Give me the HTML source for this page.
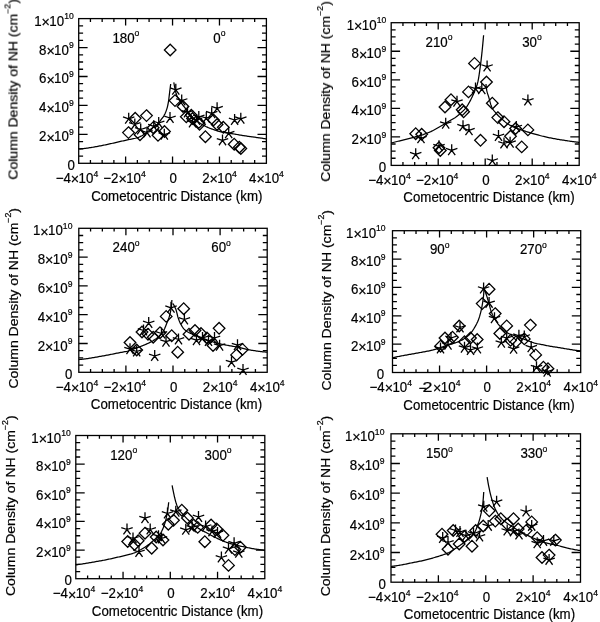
<!DOCTYPE html>
<html><head><meta charset="utf-8"><style>
html,body{margin:0;padding:0;background:#fff;width:600px;height:622px;overflow:hidden}
svg{display:block}
text{font-family:"Liberation Sans",sans-serif;font-size:13.3px;fill:#000;stroke:#000;stroke-width:0.2px}
.t{font-size:13.3px}
.yt{font-size:13.3px}
.ax{fill:none;stroke:#000;stroke-width:1.3}
.cv{fill:none;stroke:#000;stroke-width:1.25;stroke-linejoin:round}
.mk{fill:none;stroke:#000;stroke-width:1.3;stroke-linejoin:miter}
</style></head><body>
<svg width="600" height="622" viewBox="0 0 600 622">
<defs><filter id="b" x="0" y="0" width="600" height="622" filterUnits="userSpaceOnUse"><feGaussianBlur stdDeviation="0.4"/></filter></defs>
<g filter="url(#b)"><rect width="600" height="622" fill="#fff"/>
<rect x="78.7" y="18.6" width="187.7" height="144.7" class="ax"/>
<path d="M90.43 163.3v-3.3M90.43 18.6v3.3M102.16 163.3v-3.3M102.16 18.6v3.3M113.89 163.3v-3.3M113.89 18.6v3.3M125.62 163.3v-6.9M125.62 18.6v6.9M137.36 163.3v-3.3M137.36 18.6v3.3M149.09 163.3v-3.3M149.09 18.6v3.3M160.82 163.3v-3.3M160.82 18.6v3.3M172.55 163.3v-6.9M172.55 18.6v6.9M184.28 163.3v-3.3M184.28 18.6v3.3M196.01 163.3v-3.3M196.01 18.6v3.3M207.74 163.3v-3.3M207.74 18.6v3.3M219.47 163.3v-6.9M219.47 18.6v6.9M231.21 163.3v-3.3M231.21 18.6v3.3M242.94 163.3v-3.3M242.94 18.6v3.3M254.67 163.3v-3.3M254.67 18.6v3.3M78.7 156.06h4.4M266.4 156.06h-4.4M78.7 148.83h4.4M266.4 148.83h-4.4M78.7 141.59h4.4M266.4 141.59h-4.4M78.7 134.36h8.9M266.4 134.36h-8.9M78.7 127.12h4.4M266.4 127.12h-4.4M78.7 119.89h4.4M266.4 119.89h-4.4M78.7 112.66h4.4M266.4 112.66h-4.4M78.7 105.42h8.9M266.4 105.42h-8.9M78.7 98.19h4.4M266.4 98.19h-4.4M78.7 90.95h4.4M266.4 90.95h-4.4M78.7 83.71h4.4M266.4 83.71h-4.4M78.7 76.48h8.9M266.4 76.48h-8.9M78.7 69.24h4.4M266.4 69.24h-4.4M78.7 62.01h4.4M266.4 62.01h-4.4M78.7 54.78h4.4M266.4 54.78h-4.4M78.7 47.54h8.9M266.4 47.54h-8.9M78.7 40.31h4.4M266.4 40.31h-4.4M78.7 33.07h4.4M266.4 33.07h-4.4M78.7 25.84h4.4M266.4 25.84h-4.4" class="ax"/>
<text transform="matrix(1 0 0 1.055 74.9 170.3)" text-anchor="end">0</text>
<text transform="matrix(1 0 0 1.055 73.7 141.36)" text-anchor="end">2<tspan font-size="14.3" dy="1.23">×</tspan><tspan dy="-1.23" dx="-0.6">10</tspan><tspan dy="-5.97" font-size="8.6">9</tspan></text>
<text transform="matrix(1 0 0 1.055 73.7 112.42)" text-anchor="end">4<tspan font-size="14.3" dy="1.23">×</tspan><tspan dy="-1.23" dx="-0.6">10</tspan><tspan dy="-5.97" font-size="8.6">9</tspan></text>
<text transform="matrix(1 0 0 1.055 73.7 83.48)" text-anchor="end">6<tspan font-size="14.3" dy="1.23">×</tspan><tspan dy="-1.23" dx="-0.6">10</tspan><tspan dy="-5.97" font-size="8.6">9</tspan></text>
<text transform="matrix(1 0 0 1.055 73.7 54.54)" text-anchor="end">8<tspan font-size="14.3" dy="1.23">×</tspan><tspan dy="-1.23" dx="-0.6">10</tspan><tspan dy="-5.97" font-size="8.6">9</tspan></text>
<text transform="matrix(1 0 0 1.055 73.7 25.6)" text-anchor="end">1<tspan font-size="14.3" dy="1.23">×</tspan><tspan dy="-1.23" dx="-0.6">10</tspan><tspan dy="-5.97" font-size="8.6">10</tspan></text>
<text transform="matrix(1 0 0 1.055 55.7 182.9)">−4<tspan font-size="14.3" dy="1.23">×</tspan><tspan dy="-1.23" dx="-0.6">10</tspan><tspan dy="-5.97" font-size="8.6">4</tspan></text>
<text transform="matrix(1 0 0 1.055 103.33 182.9)">−2<tspan font-size="14.3" dy="1.23">×</tspan><tspan dy="-1.23" dx="-0.6">10</tspan><tspan dy="-5.97" font-size="8.6">4</tspan></text>
<text transform="matrix(1 0 0 1.055 173.25 182.9)" text-anchor="middle">0</text>
<text transform="matrix(1 0 0 1.055 202.17 182.9)">2<tspan font-size="14.3" dy="1.23">×</tspan><tspan dy="-1.23" dx="-0.6">10</tspan><tspan dy="-5.97" font-size="8.6">4</tspan></text>
<text transform="matrix(1 0 0 1.055 249.1 182.9)">4<tspan font-size="14.3" dy="1.23">×</tspan><tspan dy="-1.23" dx="-0.6">10</tspan><tspan dy="-5.97" font-size="8.6">4</tspan></text>
<text transform="matrix(1 0 0 1.055 91.13 200.5)" class="t">Cometocentric Distance (km)</text>
<text transform="matrix(0 -1.055 1 0 17.5 179.6)" class="yt">Column Density of NH (cm<tspan dy="-6.92" font-size="8.3">−2</tspan><tspan dy="6.92">)</tspan></text>
<text transform="matrix(1 0 0 1.055 112.4 42.7)">180<tspan dy="-6.07" font-size="8.6">o</tspan></text>
<text transform="matrix(1 0 0 1.055 213.3 42.7)">0<tspan dy="-6.07" font-size="8.6">o</tspan></text>
<path d="M78.7 149L79.71 148.92L80.72 148.83L81.74 148.73L82.75 148.63L83.76 148.52L84.77 148.4L85.79 148.28L86.8 148.16L87.81 148.02L88.82 147.89L89.83 147.74L90.82 147.58L91.81 147.42L92.8 147.25L93.79 147.07L94.78 146.89L95.77 146.71L96.76 146.53L97.75 146.35L98.74 146.16L99.73 145.98L100.72 145.79L101.71 145.59L102.69 145.4L103.68 145.2L104.67 145L105.66 144.79L106.65 144.59L107.64 144.38L108.63 144.16L109.62 143.94L110.61 143.72L111.6 143.49L112.59 143.26L113.58 143.03L114.57 142.79L115.56 142.56L116.54 142.33L117.53 142.11L118.52 141.88L119.51 141.66L120.5 141.45L121.49 141.23L122.48 141.01L123.47 140.8L124.46 140.58L125.45 140.37L126.44 140.15L127.43 139.93L128.42 139.71L129.4 139.5L130.39 139.3L131.38 139.11L132.37 138.91L133.36 138.71L134.35 138.49L135.34 138.26L136.33 138L137.3 137.72L138.26 137.41L139.21 137.05L140.13 136.63L141.02 136.18L141.9 135.69L142.77 135.16L143.62 134.61L144.45 134.04L145.28 133.46L146.11 132.85L146.91 132.24L147.72 131.63L148.52 131L149.33 130.37L150.13 129.74L150.94 129.11L151.74 128.49L152.55 127.87L153.35 127.27L154.18 126.67L155.01 126.1L155.84 125.52L156.64 124.92L157.43 124.26L158.14 123.54L158.78 122.77L159.4 121.95L160 121.12L160.6 120.3L161.22 119.48L161.84 118.68L162.46 117.86L163.06 117.03L163.64 116.16L164.17 115.29L164.65 114.41L165.11 113.47L165.52 112.54L165.91 111.57L166.28 110.57L166.6 109.62L166.93 108.59L167.23 107.55L167.48 106.57L167.71 105.58L167.94 104.5L168.15 103.43L168.33 102.42L168.51 101.33L168.68 100.29L168.81 99.23L168.95 98.04L169.07 97.02L169.18 96L169.32 94.84L169.46 93.73L169.6 92.62L169.73 91.52L169.87 90.42L170.01 89.33L170.15 88.25L170.29 87.17L170.42 86.11L170.56 85.05L170.7 84L170.7 84" class="cv"/>
<path d="M173.8 82.4L173.99 83.46L174.17 84.5L174.36 85.53L174.54 86.53L174.75 87.63L174.96 88.68L175.17 89.69L175.4 90.74L175.65 91.8L175.93 92.84L176.23 93.81L176.6 94.8L177 95.75L177.44 96.69L177.9 97.58L178.41 98.47L178.94 99.34L179.5 100.21L180.05 101.08L180.61 101.95L181.19 102.81L181.77 103.63L182.37 104.46L182.97 105.26L183.59 106.07L184.22 106.88L184.85 107.69L185.47 108.5L186.1 109.32L186.72 110.14L187.35 110.95L187.97 111.75L188.6 112.54L189.24 113.35L189.89 114.13L190.54 114.9L191.21 115.66L191.91 116.41L192.63 117.14L193.37 117.85L194.11 118.53L194.87 119.21L195.64 119.87L196.42 120.53L197.21 121.16L198.02 121.78L198.83 122.38L199.67 122.96L200.52 123.52L201.38 124.05L202.26 124.56L203.14 125.06L204.02 125.54L204.92 126.01L205.82 126.46L206.73 126.89L207.65 127.31L208.58 127.72L209.51 128.1L210.46 128.48L211.41 128.84L212.35 129.18L213.3 129.52L214.25 129.85L215.2 130.16L216.18 130.48L217.15 130.78L218.12 131.06L219.09 131.33L220.07 131.59L221.04 131.83L222.03 132.06L223.03 132.27L224.02 132.46L225.02 132.64L226.02 132.81L227.01 132.96L228.01 133.11L229 133.26L230 133.4L230.99 133.54L231.99 133.69L232.99 133.84L233.98 134L234.98 134.16L235.97 134.33L236.97 134.5L237.96 134.67L238.96 134.84L239.96 135.01L240.95 135.18L241.95 135.34L242.94 135.51L243.94 135.67L244.93 135.83L245.93 135.98L246.93 136.13L247.92 136.27L248.92 136.42L249.91 136.56L250.91 136.69L251.9 136.83L252.9 136.97L253.9 137.11L254.89 137.24L255.89 137.38L256.88 137.53L257.88 137.67L258.87 137.81L259.87 137.95L260.87 138.1L261.86 138.24L262.86 138.39L263.85 138.53L264.85 138.67L265.84 138.82L266.4 138.9" class="cv"/>
<path d="M170.2 44.2L176 50L170.2 55.8L164.4 50Z" class="mk"/>
<path d="M135.2 112.5L141 118.3L135.2 124.1L129.4 118.3Z" class="mk"/>
<path d="M146.5 109.8L152.3 115.6L146.5 121.4L140.7 115.6Z" class="mk"/>
<path d="M128.5 126.8L134.3 132.6L128.5 138.4L122.7 132.6Z" class="mk"/>
<path d="M140 128.9L145.8 134.7L140 140.5L134.2 134.7Z" class="mk"/>
<path d="M153.2 121.9L159 127.7L153.2 133.5L147.4 127.7Z" class="mk"/>
<path d="M158 129.5L163.8 135.3L158 141.1L152.2 135.3Z" class="mk"/>
<path d="M164.5 125.7L170.3 131.5L164.5 137.3L158.7 131.5Z" class="mk"/>
<path d="M175 94.8L180.8 100.6L175 106.4L169.2 100.6Z" class="mk"/>
<path d="M183 100.7L188.8 106.5L183 112.3L177.2 106.5Z" class="mk"/>
<path d="M186.3 111L192.1 116.8L186.3 122.6L180.5 116.8Z" class="mk"/>
<path d="M192.5 112.7L198.3 118.5L192.5 124.3L186.7 118.5Z" class="mk"/>
<path d="M198.8 116.7L204.6 122.5L198.8 128.3L193 122.5Z" class="mk"/>
<path d="M205.4 130.9L211.2 136.7L205.4 142.5L199.6 136.7Z" class="mk"/>
<path d="M217.1 118.7L222.9 124.5L217.1 130.3L211.3 124.5Z" class="mk"/>
<path d="M234.2 138.4L240 144.2L234.2 150L228.4 144.2Z" class="mk"/>
<path d="M240.8 142.7L246.6 148.5L240.8 154.3L235 148.5Z" class="mk"/>
<path d="M239.3 141.4L245.1 147.2L239.3 153L233.5 147.2Z" class="mk"/>
<path d="M213.5 114.2L219.3 120L213.5 125.8L207.7 120Z" class="mk"/>
<path d="M223.3 121.5L229.1 127.3L223.3 133.1L217.5 127.3Z" class="mk"/>
<path d="M191.3 109.5L197.1 115.3L191.3 121.1L185.5 115.3Z" class="mk"/>
<path d="M199.5 118.5L205.3 124.3L199.5 130.1L193.7 124.3Z" class="mk"/>
<path d="M128.7 118.8l0 -6M128.7 118.8l5.71 -1.85M128.7 118.8l-5.71 -1.85M128.7 118.8l3.53 4.85M128.7 118.8l-3.53 4.85" class="mk"/>
<path d="M134.8 124.5l0 -6M134.8 124.5l5.71 -1.85M134.8 124.5l-5.71 -1.85M134.8 124.5l3.53 4.85M134.8 124.5l-3.53 4.85" class="mk"/>
<path d="M140.7 129.5l0 -6M140.7 129.5l5.71 -1.85M140.7 129.5l-5.71 -1.85M140.7 129.5l3.53 4.85M140.7 129.5l-3.53 4.85" class="mk"/>
<path d="M147 132.5l0 -6M147 132.5l5.71 -1.85M147 132.5l-5.71 -1.85M147 132.5l3.53 4.85M147 132.5l-3.53 4.85" class="mk"/>
<path d="M153.8 126.3l0 -6M153.8 126.3l5.71 -1.85M153.8 126.3l-5.71 -1.85M153.8 126.3l3.53 4.85M153.8 126.3l-3.53 4.85" class="mk"/>
<path d="M158.7 123l0 -6M158.7 123l5.71 -1.85M158.7 123l-5.71 -1.85M158.7 123l3.53 4.85M158.7 123l-3.53 4.85" class="mk"/>
<path d="M164.3 134.7l0 -6M164.3 134.7l5.71 -1.85M164.3 134.7l-5.71 -1.85M164.3 134.7l3.53 4.85M164.3 134.7l-3.53 4.85" class="mk"/>
<path d="M170 118l0 -6M170 118l5.71 -1.85M170 118l-5.71 -1.85M170 118l3.53 4.85M170 118l-3.53 4.85" class="mk"/>
<path d="M175.8 89.8l0 -6M175.8 89.8l5.71 -1.85M175.8 89.8l-5.71 -1.85M175.8 89.8l3.53 4.85M175.8 89.8l-3.53 4.85" class="mk"/>
<path d="M181.7 100.6l0 -6M181.7 100.6l5.71 -1.85M181.7 100.6l-5.71 -1.85M181.7 100.6l3.53 4.85M181.7 100.6l-3.53 4.85" class="mk"/>
<path d="M187.5 112.5l0 -6M187.5 112.5l5.71 -1.85M187.5 112.5l-5.71 -1.85M187.5 112.5l3.53 4.85M187.5 112.5l-3.53 4.85" class="mk"/>
<path d="M192.5 122.5l0 -6M192.5 122.5l5.71 -1.85M192.5 122.5l-5.71 -1.85M192.5 122.5l3.53 4.85M192.5 122.5l-3.53 4.85" class="mk"/>
<path d="M198.8 117l0 -6M198.8 117l5.71 -1.85M198.8 117l-5.71 -1.85M198.8 117l3.53 4.85M198.8 117l-3.53 4.85" class="mk"/>
<path d="M206.3 118.1l0 -6M206.3 118.1l5.71 -1.85M206.3 118.1l-5.71 -1.85M206.3 118.1l3.53 4.85M206.3 118.1l-3.53 4.85" class="mk"/>
<path d="M211.7 113.3l0 -6M211.7 113.3l5.71 -1.85M211.7 113.3l-5.71 -1.85M211.7 113.3l3.53 4.85M211.7 113.3l-3.53 4.85" class="mk"/>
<path d="M217.1 108.3l0 -6M217.1 108.3l5.71 -1.85M217.1 108.3l-5.71 -1.85M217.1 108.3l3.53 4.85M217.1 108.3l-3.53 4.85" class="mk"/>
<path d="M228.7 133.3l0 -6M228.7 133.3l5.71 -1.85M228.7 133.3l-5.71 -1.85M228.7 133.3l3.53 4.85M228.7 133.3l-3.53 4.85" class="mk"/>
<path d="M222.5 140.4l0 -6M222.5 140.4l5.71 -1.85M222.5 140.4l-5.71 -1.85M222.5 140.4l3.53 4.85M222.5 140.4l-3.53 4.85" class="mk"/>
<path d="M234.6 120l0 -6M234.6 120l5.71 -1.85M234.6 120l-5.71 -1.85M234.6 120l3.53 4.85M234.6 120l-3.53 4.85" class="mk"/>
<path d="M240.8 118.8l0 -6M240.8 118.8l5.71 -1.85M240.8 118.8l-5.71 -1.85M240.8 118.8l3.53 4.85M240.8 118.8l-3.53 4.85" class="mk"/>
<path d="M196.5 120l0 -6M196.5 120l5.71 -1.85M196.5 120l-5.71 -1.85M196.5 120l3.53 4.85M196.5 120l-3.53 4.85" class="mk"/>
<rect x="391.2" y="22.7" width="188" height="142.7" class="ax"/>
<path d="M402.95 165.4v-3.3M402.95 22.7v3.3M414.7 165.4v-3.3M414.7 22.7v3.3M426.45 165.4v-3.3M426.45 22.7v3.3M438.2 165.4v-6.9M438.2 22.7v6.9M449.95 165.4v-3.3M449.95 22.7v3.3M461.7 165.4v-3.3M461.7 22.7v3.3M473.45 165.4v-3.3M473.45 22.7v3.3M485.2 165.4v-6.9M485.2 22.7v6.9M496.95 165.4v-3.3M496.95 22.7v3.3M508.7 165.4v-3.3M508.7 22.7v3.3M520.45 165.4v-3.3M520.45 22.7v3.3M532.2 165.4v-6.9M532.2 22.7v6.9M543.95 165.4v-3.3M543.95 22.7v3.3M555.7 165.4v-3.3M555.7 22.7v3.3M567.45 165.4v-3.3M567.45 22.7v3.3M391.2 158.27h4.4M579.2 158.27h-4.4M391.2 151.13h4.4M579.2 151.13h-4.4M391.2 144h4.4M579.2 144h-4.4M391.2 136.86h8.9M579.2 136.86h-8.9M391.2 129.72h4.4M579.2 129.72h-4.4M391.2 122.59h4.4M579.2 122.59h-4.4M391.2 115.46h4.4M579.2 115.46h-4.4M391.2 108.32h8.9M579.2 108.32h-8.9M391.2 101.19h4.4M579.2 101.19h-4.4M391.2 94.05h4.4M579.2 94.05h-4.4M391.2 86.91h4.4M579.2 86.91h-4.4M391.2 79.78h8.9M579.2 79.78h-8.9M391.2 72.64h4.4M579.2 72.64h-4.4M391.2 65.51h4.4M579.2 65.51h-4.4M391.2 58.38h4.4M579.2 58.38h-4.4M391.2 51.24h8.9M579.2 51.24h-8.9M391.2 44.1h4.4M579.2 44.1h-4.4M391.2 36.97h4.4M579.2 36.97h-4.4M391.2 29.84h4.4M579.2 29.84h-4.4" class="ax"/>
<text transform="matrix(1 0 0 1.055 386.2 172.4)" text-anchor="end">0</text>
<text transform="matrix(1 0 0 1.055 386.2 143.86)" text-anchor="end">2<tspan font-size="14.3" dy="1.23">×</tspan><tspan dy="-1.23" dx="-0.6">10</tspan><tspan dy="-5.97" font-size="8.6">9</tspan></text>
<text transform="matrix(1 0 0 1.055 386.2 115.32)" text-anchor="end">4<tspan font-size="14.3" dy="1.23">×</tspan><tspan dy="-1.23" dx="-0.6">10</tspan><tspan dy="-5.97" font-size="8.6">9</tspan></text>
<text transform="matrix(1 0 0 1.055 386.2 86.78)" text-anchor="end">6<tspan font-size="14.3" dy="1.23">×</tspan><tspan dy="-1.23" dx="-0.6">10</tspan><tspan dy="-5.97" font-size="8.6">9</tspan></text>
<text transform="matrix(1 0 0 1.055 386.2 58.24)" text-anchor="end">8<tspan font-size="14.3" dy="1.23">×</tspan><tspan dy="-1.23" dx="-0.6">10</tspan><tspan dy="-5.97" font-size="8.6">9</tspan></text>
<text transform="matrix(1 0 0 1.055 386.2 29.7)" text-anchor="end">1<tspan font-size="14.3" dy="1.23">×</tspan><tspan dy="-1.23" dx="-0.6">10</tspan><tspan dy="-5.97" font-size="8.6">10</tspan></text>
<text transform="matrix(1 0 0 1.055 368.2 185)">−4<tspan font-size="14.3" dy="1.23">×</tspan><tspan dy="-1.23" dx="-0.6">10</tspan><tspan dy="-5.97" font-size="8.6">4</tspan></text>
<text transform="matrix(1 0 0 1.055 415.9 185)">−2<tspan font-size="14.3" dy="1.23">×</tspan><tspan dy="-1.23" dx="-0.6">10</tspan><tspan dy="-5.97" font-size="8.6">4</tspan></text>
<text transform="matrix(1 0 0 1.055 485.9 185)" text-anchor="middle">0</text>
<text transform="matrix(1 0 0 1.055 514.9 185)">2<tspan font-size="14.3" dy="1.23">×</tspan><tspan dy="-1.23" dx="-0.6">10</tspan><tspan dy="-5.97" font-size="8.6">4</tspan></text>
<text transform="matrix(1 0 0 1.055 561.9 185)">4<tspan font-size="14.3" dy="1.23">×</tspan><tspan dy="-1.23" dx="-0.6">10</tspan><tspan dy="-5.97" font-size="8.6">4</tspan></text>
<text transform="matrix(1 0 0 1.055 403.33 202.3)" class="t">Cometocentric Distance (km)</text>
<text transform="matrix(0 -1.055 1 0 330 181.7)" class="yt">Column Density of NH (cm<tspan dy="-6.92" font-size="8.3">−2</tspan><tspan dy="6.92">)</tspan></text>
<text transform="matrix(1 0 0 1.055 425.5 46.7)">210<tspan dy="-6.07" font-size="8.6">o</tspan></text>
<text transform="matrix(1 0 0 1.055 522.2 46.7)">30<tspan dy="-6.07" font-size="8.6">o</tspan></text>
<path d="M391.2 143L392.17 142.75L393.14 142.5L394.11 142.25L395.08 142L396.05 141.76L397.02 141.51L397.99 141.26L398.96 141.02L399.93 140.77L400.9 140.52L401.87 140.28L402.85 140.04L403.84 139.79L404.83 139.55L405.83 139.3L406.82 139.06L407.81 138.81L408.78 138.57L409.75 138.32L410.72 138.07L411.69 137.82L412.67 137.57L413.64 137.33L414.61 137.08L415.58 136.83L416.55 136.58L417.52 136.32L418.49 136.05L419.46 135.77L420.43 135.48L421.4 135.17L422.37 134.86L423.32 134.54L424.26 134.2L425.21 133.86L426.16 133.51L427.11 133.14L428.05 132.76L428.98 132.38L429.9 131.98L430.83 131.58L431.75 131.15L432.65 130.71L433.55 130.25L434.45 129.77L435.33 129.28L436.21 128.79L437.09 128.28L437.97 127.77L438.84 127.27L439.72 126.76L440.6 126.25L441.48 125.74L442.36 125.22L443.23 124.69L444.11 124.16L444.97 123.64L445.82 123.12L446.68 122.6L447.55 122.07L448.43 121.54L449.31 121.03L450.19 120.53L451.07 120.04L451.95 119.54L452.82 119.03L453.7 118.5L454.56 117.97L455.41 117.41L456.24 116.83L457.05 116.21L457.84 115.58L458.62 114.91L459.39 114.25L460.15 113.57L460.91 112.89L461.67 112.22L462.44 111.53L463.17 110.83L463.89 110.13L464.58 109.39L465.25 108.64L465.9 107.85L466.5 107.03L467.08 106.17L467.63 105.28L468.17 104.4L468.67 103.52L469.18 102.62L469.69 101.72L470.18 100.83L470.66 99.92L471.12 99.01L471.58 98.08L472.02 97.17L472.46 96.24L472.9 95.3L473.32 94.38L473.73 93.43L474.15 92.46L474.54 91.51L474.94 90.53L475.31 89.59L475.67 88.65L476.07 87.66L476.44 86.7L476.78 85.73L477.11 84.74L477.41 83.72L477.68 82.66L477.92 81.67L478.12 80.67L478.33 79.6L478.52 78.58L478.7 77.5L478.89 76.37L479.05 75.34L479.21 74.28L479.37 73.18L479.53 72.06L479.7 70.92L479.83 69.91L479.97 68.9L480.11 67.87L480.25 66.83L480.39 65.78L480.53 64.73L480.67 63.66L480.8 62.59L480.94 61.49L481.08 60.35L481.22 59.18L481.34 58.19L481.45 57.18L481.57 56.14L481.68 55.09L481.8 54.02L481.91 52.93L482.03 51.82L482.14 50.69L482.26 49.55L482.38 48.39L482.49 47.22L482.61 46.02L482.72 44.82L482.84 43.6L482.95 42.36L483.05 41.36L483.14 40.36L483.23 39.34L483.32 38.32L483.42 37.29L483.51 36.25L483.6 35.2L483.6 35.2" class="cv"/>
<path d="M486 84L486.09 85.3L486.19 86.57L486.3 87.72L486.47 88.77L486.65 89.83L486.86 90.88L487.1 91.89L487.38 92.93L487.68 93.9L488 94.85L488.35 95.86L488.68 96.88L488.96 97.88L489.24 98.92L489.5 99.89L489.75 100.86L490.03 101.91L490.31 102.93L490.59 103.91L490.89 104.89L491.22 105.85L491.62 106.82L492.08 107.75L492.57 108.62L493.11 109.49L493.69 110.33L494.3 111.13L494.95 111.92L495.63 112.7L496.3 113.47L496.98 114.24L497.68 115L498.38 115.73L499.1 116.44L499.84 117.15L500.59 117.85L501.34 118.53L502.08 119.22L502.83 119.89L503.57 120.56L504.34 121.23L505.11 121.88L505.9 122.51L506.72 123.13L507.56 123.72L508.4 124.28L509.26 124.84L510.12 125.36L511.01 125.85L511.92 126.31L512.83 126.73L513.76 127.13L514.69 127.5L515.65 127.86L516.6 128.21L517.56 128.55L518.51 128.88L519.47 129.21L520.42 129.54L521.38 129.87L522.33 130.2L523.29 130.53L524.24 130.85L525.2 131.17L526.16 131.48L527.11 131.79L528.07 132.1L529.02 132.39L530 132.69L530.98 132.99L531.96 133.28L532.94 133.56L533.92 133.84L534.9 134.12L535.87 134.4L536.85 134.68L537.83 134.95L538.81 135.22L539.79 135.48L540.77 135.74L541.75 135.99L542.73 136.24L543.71 136.48L544.68 136.71L545.66 136.94L546.64 137.16L547.62 137.37L548.62 137.58L549.62 137.78L550.63 137.98L551.63 138.18L552.63 138.37L553.63 138.55L554.64 138.73L555.64 138.91L556.64 139.09L557.64 139.26L558.64 139.43L559.65 139.6L560.65 139.76L561.65 139.92L562.65 140.08L563.66 140.24L564.66 140.39L565.66 140.55L566.66 140.7L567.66 140.85L568.67 141L569.67 141.14L570.67 141.28L571.67 141.43L572.67 141.56L573.68 141.7L574.68 141.83L575.68 141.96L576.68 142.09L577.69 142.22L578.69 142.34L579.2 142.4" class="cv"/>
<path d="M415.7 127.9L421.5 133.7L415.7 139.5L409.9 133.7Z" class="mk"/>
<path d="M421.7 128.5L427.5 134.3L421.7 140.1L415.9 134.3Z" class="mk"/>
<path d="M451 93.9L456.8 99.7L451 105.5L445.2 99.7Z" class="mk"/>
<path d="M445 101.2L450.8 107L445 112.8L439.2 107Z" class="mk"/>
<path d="M480.5 134.5L486.3 140.3L480.5 146.1L474.7 140.3Z" class="mk"/>
<path d="M439 141.9L444.8 147.7L439 153.5L433.2 147.7Z" class="mk"/>
<path d="M440.3 144.7L446.1 150.5L440.3 156.3L434.5 150.5Z" class="mk"/>
<path d="M474.5 57.6L480.3 63.4L474.5 69.2L468.7 63.4Z" class="mk"/>
<path d="M486.5 76.2L492.3 82L486.5 87.8L480.7 82Z" class="mk"/>
<path d="M492.3 97.4L498.1 103.2L492.3 109L486.5 103.2Z" class="mk"/>
<path d="M497.8 111.8L503.6 117.6L497.8 123.4L492 117.6Z" class="mk"/>
<path d="M504 115.9L509.8 121.7L504 127.5L498.2 121.7Z" class="mk"/>
<path d="M515.6 122.7L521.4 128.5L515.6 134.3L509.8 128.5Z" class="mk"/>
<path d="M527.9 124.1L533.7 129.9L527.9 135.7L522.1 129.9Z" class="mk"/>
<path d="M510.5 130.5L516.3 136.3L510.5 142.1L504.7 136.3Z" class="mk"/>
<path d="M521.7 141.1L527.5 146.9L521.7 152.7L515.9 146.9Z" class="mk"/>
<path d="M462.2 104L468 109.8L462.2 115.6L456.4 109.8Z" class="mk"/>
<path d="M463.6 106L469.4 111.8L463.6 117.6L457.8 111.8Z" class="mk"/>
<path d="M468.5 86.1L474.3 91.9L468.5 97.7L462.7 91.9Z" class="mk"/>
<path d="M457 101.7l0 -6M457 101.7l5.71 -1.85M457 101.7l-5.71 -1.85M457 101.7l3.53 4.85M457 101.7l-3.53 4.85" class="mk"/>
<path d="M445.7 123.7l0 -6M445.7 123.7l5.71 -1.85M445.7 123.7l-5.71 -1.85M445.7 123.7l3.53 4.85M445.7 123.7l-3.53 4.85" class="mk"/>
<path d="M421 138.3l0 -6M421 138.3l5.71 -1.85M421 138.3l-5.71 -1.85M421 138.3l3.53 4.85M421 138.3l-3.53 4.85" class="mk"/>
<path d="M463 126.3l0 -6M463 126.3l5.71 -1.85M463 126.3l-5.71 -1.85M463 126.3l3.53 4.85M463 126.3l-3.53 4.85" class="mk"/>
<path d="M469 130.3l0 -6M469 130.3l5.71 -1.85M469 130.3l-5.71 -1.85M469 130.3l3.53 4.85M469 130.3l-3.53 4.85" class="mk"/>
<path d="M415.7 154.3l0 -6M415.7 154.3l5.71 -1.85M415.7 154.3l-5.71 -1.85M415.7 154.3l3.53 4.85M415.7 154.3l-3.53 4.85" class="mk"/>
<path d="M451.7 150.3l0 -6M451.7 150.3l5.71 -1.85M451.7 150.3l-5.71 -1.85M451.7 150.3l3.53 4.85M451.7 150.3l-3.53 4.85" class="mk"/>
<path d="M439 146.3l0 -6M439 146.3l5.71 -1.85M439 146.3l-5.71 -1.85M439 146.3l3.53 4.85M439 146.3l-3.53 4.85" class="mk"/>
<path d="M475.5 88.6l0 -6M475.5 88.6l5.71 -1.85M475.5 88.6l-5.71 -1.85M475.5 88.6l3.53 4.85M475.5 88.6l-3.53 4.85" class="mk"/>
<path d="M481.8 89.2l0 -6M481.8 89.2l5.71 -1.85M481.8 89.2l-5.71 -1.85M481.8 89.2l3.53 4.85M481.8 89.2l-3.53 4.85" class="mk"/>
<path d="M487.1 66.6l0 -6M487.1 66.6l5.71 -1.85M487.1 66.6l-5.71 -1.85M487.1 66.6l3.53 4.85M487.1 66.6l-3.53 4.85" class="mk"/>
<path d="M498.5 136l0 -6M498.5 136l5.71 -1.85M498.5 136l-5.71 -1.85M498.5 136l3.53 4.85M498.5 136l-3.53 4.85" class="mk"/>
<path d="M504 143.5l0 -6M504 143.5l5.71 -1.85M504 143.5l-5.71 -1.85M504 143.5l3.53 4.85M504 143.5l-3.53 4.85" class="mk"/>
<path d="M510.1 142.8l0 -6M510.1 142.8l5.71 -1.85M510.1 142.8l-5.71 -1.85M510.1 142.8l3.53 4.85M510.1 142.8l-3.53 4.85" class="mk"/>
<path d="M516.3 127.1l0 -6M516.3 127.1l5.71 -1.85M516.3 127.1l-5.71 -1.85M516.3 127.1l3.53 4.85M516.3 127.1l-3.53 4.85" class="mk"/>
<path d="M492.3 160.6l0 -6M492.3 160.6l5.71 -1.85M492.3 160.6l-5.71 -1.85M492.3 160.6l3.53 4.85M492.3 160.6l-3.53 4.85" class="mk"/>
<path d="M527.9 100.5l0 -6M527.9 100.5l5.71 -1.85M527.9 100.5l-5.71 -1.85M527.9 100.5l3.53 4.85M527.9 100.5l-3.53 4.85" class="mk"/>
<rect x="78.8" y="228.3" width="188.4" height="144" class="ax"/>
<path d="M90.57 372.3v-3.3M90.57 228.3v3.3M102.35 372.3v-3.3M102.35 228.3v3.3M114.12 372.3v-3.3M114.12 228.3v3.3M125.9 372.3v-6.9M125.9 228.3v6.9M137.67 372.3v-3.3M137.67 228.3v3.3M149.45 372.3v-3.3M149.45 228.3v3.3M161.22 372.3v-3.3M161.22 228.3v3.3M173 372.3v-6.9M173 228.3v6.9M184.77 372.3v-3.3M184.77 228.3v3.3M196.55 372.3v-3.3M196.55 228.3v3.3M208.32 372.3v-3.3M208.32 228.3v3.3M220.1 372.3v-6.9M220.1 228.3v6.9M231.88 372.3v-3.3M231.88 228.3v3.3M243.65 372.3v-3.3M243.65 228.3v3.3M255.42 372.3v-3.3M255.42 228.3v3.3M78.8 365.1h4.4M267.2 365.1h-4.4M78.8 357.9h4.4M267.2 357.9h-4.4M78.8 350.7h4.4M267.2 350.7h-4.4M78.8 343.5h8.9M267.2 343.5h-8.9M78.8 336.3h4.4M267.2 336.3h-4.4M78.8 329.1h4.4M267.2 329.1h-4.4M78.8 321.9h4.4M267.2 321.9h-4.4M78.8 314.7h8.9M267.2 314.7h-8.9M78.8 307.5h4.4M267.2 307.5h-4.4M78.8 300.3h4.4M267.2 300.3h-4.4M78.8 293.1h4.4M267.2 293.1h-4.4M78.8 285.9h8.9M267.2 285.9h-8.9M78.8 278.7h4.4M267.2 278.7h-4.4M78.8 271.5h4.4M267.2 271.5h-4.4M78.8 264.3h4.4M267.2 264.3h-4.4M78.8 257.1h8.9M267.2 257.1h-8.9M78.8 249.9h4.4M267.2 249.9h-4.4M78.8 242.7h4.4M267.2 242.7h-4.4M78.8 235.5h4.4M267.2 235.5h-4.4" class="ax"/>
<text transform="matrix(1 0 0 1.055 72.4 379.3)" text-anchor="end">0</text>
<text transform="matrix(1 0 0 1.055 72.4 350.5)" text-anchor="end">2<tspan font-size="14.3" dy="1.23">×</tspan><tspan dy="-1.23" dx="-0.6">10</tspan><tspan dy="-5.97" font-size="8.6">9</tspan></text>
<text transform="matrix(1 0 0 1.055 72.4 321.7)" text-anchor="end">4<tspan font-size="14.3" dy="1.23">×</tspan><tspan dy="-1.23" dx="-0.6">10</tspan><tspan dy="-5.97" font-size="8.6">9</tspan></text>
<text transform="matrix(1 0 0 1.055 72.4 292.9)" text-anchor="end">6<tspan font-size="14.3" dy="1.23">×</tspan><tspan dy="-1.23" dx="-0.6">10</tspan><tspan dy="-5.97" font-size="8.6">9</tspan></text>
<text transform="matrix(1 0 0 1.055 72.4 264.1)" text-anchor="end">8<tspan font-size="14.3" dy="1.23">×</tspan><tspan dy="-1.23" dx="-0.6">10</tspan><tspan dy="-5.97" font-size="8.6">9</tspan></text>
<text transform="matrix(1 0 0 1.055 72.4 235.3)" text-anchor="end">1<tspan font-size="14.3" dy="1.23">×</tspan><tspan dy="-1.23" dx="-0.6">10</tspan><tspan dy="-5.97" font-size="8.6">10</tspan></text>
<text transform="matrix(1 0 0 1.055 55.8 391.9)">−4<tspan font-size="14.3" dy="1.23">×</tspan><tspan dy="-1.23" dx="-0.6">10</tspan><tspan dy="-5.97" font-size="8.6">4</tspan></text>
<text transform="matrix(1 0 0 1.055 103.6 391.9)">−2<tspan font-size="14.3" dy="1.23">×</tspan><tspan dy="-1.23" dx="-0.6">10</tspan><tspan dy="-5.97" font-size="8.6">4</tspan></text>
<text transform="matrix(1 0 0 1.055 173.7 391.9)" text-anchor="middle">0</text>
<text transform="matrix(1 0 0 1.055 202.8 391.9)">2<tspan font-size="14.3" dy="1.23">×</tspan><tspan dy="-1.23" dx="-0.6">10</tspan><tspan dy="-5.97" font-size="8.6">4</tspan></text>
<text transform="matrix(1 0 0 1.055 249.9 391.9)">4<tspan font-size="14.3" dy="1.23">×</tspan><tspan dy="-1.23" dx="-0.6">10</tspan><tspan dy="-5.97" font-size="8.6">4</tspan></text>
<text transform="matrix(1 0 0 1.055 90.83 409.3)" class="t">Cometocentric Distance (km)</text>
<text transform="matrix(0 -1.055 1 0 17.6 388.6)" class="yt">Column Density of NH (cm<tspan dy="-6.92" font-size="8.3">−2</tspan><tspan dy="6.92">)</tspan></text>
<text transform="matrix(1 0 0 1.055 112.6 252)">240<tspan dy="-6.07" font-size="8.6">o</tspan></text>
<text transform="matrix(1 0 0 1.055 211.3 252)">60<tspan dy="-6.07" font-size="8.6">o</tspan></text>
<path d="M78.8 359.6L79.8 359.5L80.8 359.4L81.8 359.29L82.8 359.17L83.81 359.05L84.81 358.93L85.81 358.8L86.81 358.66L87.81 358.53L88.81 358.38L89.81 358.23L90.81 358.07L91.81 357.9L92.82 357.73L93.82 357.55L94.82 357.37L95.82 357.19L96.82 357.01L97.82 356.83L98.82 356.66L99.82 356.48L100.82 356.3L101.82 356.13L102.83 355.95L103.83 355.77L104.83 355.59L105.83 355.41L106.83 355.22L107.83 355.03L108.83 354.84L109.83 354.65L110.83 354.45L111.84 354.25L112.84 354.05L113.84 353.84L114.84 353.64L115.84 353.44L116.84 353.23L117.84 353.03L118.84 352.84L119.84 352.65L120.85 352.47L121.85 352.3L122.85 352.12L123.85 351.93L124.85 351.73L125.85 351.52L126.83 351.3L127.81 351.05L128.78 350.76L129.74 350.4L130.69 350.04L131.65 349.7L132.6 349.37L133.56 349.04L134.51 348.71L135.47 348.38L136.42 348.05L137.37 347.71L138.33 347.37L139.28 347.02L140.24 346.66L141.17 346.29L142.1 345.92L143.03 345.54L143.96 345.15L144.89 344.76L145.83 344.36L146.76 343.94L147.69 343.51L148.6 343.08L149.5 342.63L150.41 342.17L151.3 341.69L152.18 341.2L153.07 340.68L153.93 340.15L154.79 339.6L155.63 339.03L156.44 338.44L157.26 337.81L158.05 337.16L158.82 336.49L159.56 335.79L160.28 335.06L160.96 334.32L161.61 333.54L162.24 332.72L162.82 331.9L163.38 331.05L163.89 330.19L164.36 329.26L164.78 328.32L165.17 327.36L165.54 326.43L165.92 325.48L166.29 324.53L166.69 323.54L167.08 322.59L167.48 321.64L167.87 320.67L168.24 319.71L168.59 318.75L168.92 317.78L169.22 316.81L169.5 315.84L169.78 314.83L170.04 313.84L170.27 312.87L170.5 311.79L170.71 310.72L170.9 309.66L171.06 308.65L171.22 307.54L171.36 306.48L171.48 305.33L171.57 304.26L171.67 303.1L171.76 301.87L171.85 300.62L171.9 300" class="cv"/>
<path d="M172.6 303.5L173.31 304.24L173.88 305.1L174.37 306.01L174.82 306.94L175.25 307.89L175.65 308.84L176.03 309.82L176.34 310.83L176.62 311.88L176.88 312.92L177.12 313.9L177.35 314.87L177.62 315.92L177.88 316.91L178.16 317.88L178.49 318.84L178.85 319.81L179.22 320.79L179.63 321.77L180.05 322.73L180.5 323.64L181 324.55L181.52 325.45L182.06 326.34L182.63 327.21L183.22 328.04L183.86 328.85L184.55 329.59L185.3 330.25L186.11 330.86L186.96 331.43L187.83 331.95L188.73 332.44L189.63 332.89L190.55 333.33L191.48 333.76L192.4 334.19L193.32 334.6L194.25 334.99L195.19 335.37L196.14 335.74L197.08 336.1L198.03 336.45L198.98 336.8L199.92 337.16L200.87 337.51L201.82 337.87L202.76 338.23L203.71 338.59L204.65 338.95L205.6 339.3L206.55 339.65L207.49 340L208.44 340.34L209.38 340.68L210.33 341.01L211.3 341.34L212.27 341.66L213.24 341.98L214.21 342.28L215.18 342.57L216.15 342.84L217.12 343.1L218.09 343.35L219.08 343.59L220.08 343.82L221.07 344.05L222.06 344.26L223.06 344.47L224.05 344.67L225.05 344.86L226.04 345.05L227.03 345.24L228.03 345.42L229.02 345.61L230.01 345.78L231.01 345.96L232 346.14L232.99 346.32L233.99 346.51L234.98 346.69L235.97 346.88L236.97 347.07L237.96 347.27L238.95 347.48L239.95 347.69L240.94 347.91L241.94 348.15L242.91 348.4L243.88 348.65L244.85 348.89L245.84 349.14L246.83 349.37L247.83 349.58L248.82 349.77L249.81 349.94L250.81 350.1L251.8 350.27L252.79 350.43L253.79 350.58L254.78 350.74L255.77 350.88L256.77 351.03L257.76 351.17L258.75 351.3L259.75 351.42L260.74 351.54L261.76 351.65L262.78 351.76L263.79 351.85L264.81 351.94L265.83 352.01L266.85 352.08L267.2 352.1" class="cv"/>
<path d="M130 336.7L135.8 342.5L130 348.3L124.2 342.5Z" class="mk"/>
<path d="M136.7 344.2L142.5 350L136.7 355.8L130.9 350Z" class="mk"/>
<path d="M142 326.2L147.8 332L142 337.8L136.2 332Z" class="mk"/>
<path d="M148 328.4L153.8 334.2L148 340L142.2 334.2Z" class="mk"/>
<path d="M153.2 331.4L159 337.2L153.2 343L147.4 337.2Z" class="mk"/>
<path d="M160 326.9L165.8 332.7L160 338.5L154.2 332.7Z" class="mk"/>
<path d="M166.2 310.6L172 316.4L166.2 322.2L160.4 316.4Z" class="mk"/>
<path d="M171.7 329.9L177.5 335.7L171.7 341.5L165.9 335.7Z" class="mk"/>
<path d="M177.7 346.4L183.5 352.2L177.7 358L171.9 352.2Z" class="mk"/>
<path d="M183.7 302.9L189.5 308.7L183.7 314.5L177.9 308.7Z" class="mk"/>
<path d="M189 328.4L194.8 334.2L189 340L183.2 334.2Z" class="mk"/>
<path d="M195 324.7L200.8 330.5L195 336.3L189.2 330.5Z" class="mk"/>
<path d="M201 327.7L206.8 333.5L201 339.3L195.2 333.5Z" class="mk"/>
<path d="M207 332.2L212.8 338L207 343.8L201.2 338Z" class="mk"/>
<path d="M213 339.7L218.8 345.5L213 351.3L207.2 345.5Z" class="mk"/>
<path d="M219.1 322.5L224.9 328.3L219.1 334.1L213.3 328.3Z" class="mk"/>
<path d="M242.5 343.6L248.3 349.4L242.5 355.2L236.7 349.4Z" class="mk"/>
<path d="M236.6 349.1L242.4 354.9L236.6 360.7L230.8 354.9Z" class="mk"/>
<path d="M130 349.2l0 -6M130 349.2l5.71 -1.85M130 349.2l-5.71 -1.85M130 349.2l3.53 4.85M130 349.2l-3.53 4.85" class="mk"/>
<path d="M136.7 351.5l0 -6M136.7 351.5l5.71 -1.85M136.7 351.5l-5.71 -1.85M136.7 351.5l3.53 4.85M136.7 351.5l-3.53 4.85" class="mk"/>
<path d="M148.7 323l0 -6M148.7 323l5.71 -1.85M148.7 323l-5.71 -1.85M148.7 323l3.53 4.85M148.7 323l-3.53 4.85" class="mk"/>
<path d="M143.5 330.5l0 -6M143.5 330.5l5.71 -1.85M143.5 330.5l-5.71 -1.85M143.5 330.5l3.53 4.85M143.5 330.5l-3.53 4.85" class="mk"/>
<path d="M161.5 333.5l0 -6M161.5 333.5l5.71 -1.85M161.5 333.5l-5.71 -1.85M161.5 333.5l3.53 4.85M161.5 333.5l-3.53 4.85" class="mk"/>
<path d="M166 341.7l0 -6M166 341.7l5.71 -1.85M166 341.7l-5.71 -1.85M166 341.7l3.53 4.85M166 341.7l-3.53 4.85" class="mk"/>
<path d="M154.7 356l0 -6M154.7 356l5.71 -1.85M154.7 356l-5.71 -1.85M154.7 356l3.53 4.85M154.7 356l-3.53 4.85" class="mk"/>
<path d="M184.4 319.5l0 -6M184.4 319.5l5.71 -1.85M184.4 319.5l-5.71 -1.85M184.4 319.5l3.53 4.85M184.4 319.5l-3.53 4.85" class="mk"/>
<path d="M178.5 339.5l0 -6M178.5 339.5l5.71 -1.85M178.5 339.5l-5.71 -1.85M178.5 339.5l3.53 4.85M178.5 339.5l-3.53 4.85" class="mk"/>
<path d="M196.5 340.2l0 -6M196.5 340.2l5.71 -1.85M196.5 340.2l-5.71 -1.85M196.5 340.2l3.53 4.85M196.5 340.2l-3.53 4.85" class="mk"/>
<path d="M202.5 338l0 -6M202.5 338l5.71 -1.85M202.5 338l-5.71 -1.85M202.5 338l3.53 4.85M202.5 338l-3.53 4.85" class="mk"/>
<path d="M208.5 341l0 -6M208.5 341l5.71 -1.85M208.5 341l-5.71 -1.85M208.5 341l3.53 4.85M208.5 341l-3.53 4.85" class="mk"/>
<path d="M214.5 338l0 -6M214.5 338l5.71 -1.85M214.5 338l-5.71 -1.85M214.5 338l3.53 4.85M214.5 338l-3.53 4.85" class="mk"/>
<path d="M219.6 345.7l0 -6M219.6 345.7l5.71 -1.85M219.6 345.7l-5.71 -1.85M219.6 345.7l3.53 4.85M219.6 345.7l-3.53 4.85" class="mk"/>
<path d="M237.5 345.2l0 -6M237.5 345.2l5.71 -1.85M237.5 345.2l-5.71 -1.85M237.5 345.2l3.53 4.85M237.5 345.2l-3.53 4.85" class="mk"/>
<path d="M231.5 362.2l0 -6M231.5 362.2l5.71 -1.85M231.5 362.2l-5.71 -1.85M231.5 362.2l3.53 4.85M231.5 362.2l-3.53 4.85" class="mk"/>
<path d="M243 370l0 -6M243 370l5.71 -1.85M243 370l-5.71 -1.85M243 370l3.53 4.85M243 370l-3.53 4.85" class="mk"/>
<path d="M171 307.8l0 -6M171 307.8l5.71 -1.85M171 307.8l-5.71 -1.85M171 307.8l3.53 4.85M171 307.8l-3.53 4.85" class="mk"/>
<rect x="392.5" y="230.7" width="188.2" height="141.8" class="ax"/>
<path d="M404.26 372.5v-3.3M404.26 230.7v3.3M416.02 372.5v-3.3M416.02 230.7v3.3M427.79 372.5v-3.3M427.79 230.7v3.3M439.55 372.5v-6.9M439.55 230.7v6.9M451.31 372.5v-3.3M451.31 230.7v3.3M463.08 372.5v-3.3M463.08 230.7v3.3M474.84 372.5v-3.3M474.84 230.7v3.3M486.6 372.5v-6.9M486.6 230.7v6.9M498.36 372.5v-3.3M498.36 230.7v3.3M510.12 372.5v-3.3M510.12 230.7v3.3M521.89 372.5v-3.3M521.89 230.7v3.3M533.65 372.5v-6.9M533.65 230.7v6.9M545.41 372.5v-3.3M545.41 230.7v3.3M557.18 372.5v-3.3M557.18 230.7v3.3M568.94 372.5v-3.3M568.94 230.7v3.3M392.5 365.41h4.4M580.7 365.41h-4.4M392.5 358.32h4.4M580.7 358.32h-4.4M392.5 351.23h4.4M580.7 351.23h-4.4M392.5 344.14h8.9M580.7 344.14h-8.9M392.5 337.05h4.4M580.7 337.05h-4.4M392.5 329.96h4.4M580.7 329.96h-4.4M392.5 322.87h4.4M580.7 322.87h-4.4M392.5 315.78h8.9M580.7 315.78h-8.9M392.5 308.69h4.4M580.7 308.69h-4.4M392.5 301.6h4.4M580.7 301.6h-4.4M392.5 294.51h4.4M580.7 294.51h-4.4M392.5 287.42h8.9M580.7 287.42h-8.9M392.5 280.33h4.4M580.7 280.33h-4.4M392.5 273.24h4.4M580.7 273.24h-4.4M392.5 266.15h4.4M580.7 266.15h-4.4M392.5 259.06h8.9M580.7 259.06h-8.9M392.5 251.97h4.4M580.7 251.97h-4.4M392.5 244.88h4.4M580.7 244.88h-4.4M392.5 237.79h4.4M580.7 237.79h-4.4" class="ax"/>
<text transform="matrix(1 0 0 1.055 384.2 378.6)" text-anchor="end">0</text>
<text transform="matrix(1 0 0 1.055 385.6 351.14)" text-anchor="end">2<tspan font-size="14.3" dy="1.23">×</tspan><tspan dy="-1.23" dx="-0.6">10</tspan><tspan dy="-5.97" font-size="8.6">9</tspan></text>
<text transform="matrix(1 0 0 1.055 385.6 322.78)" text-anchor="end">4<tspan font-size="14.3" dy="1.23">×</tspan><tspan dy="-1.23" dx="-0.6">10</tspan><tspan dy="-5.97" font-size="8.6">9</tspan></text>
<text transform="matrix(1 0 0 1.055 385.6 294.42)" text-anchor="end">6<tspan font-size="14.3" dy="1.23">×</tspan><tspan dy="-1.23" dx="-0.6">10</tspan><tspan dy="-5.97" font-size="8.6">9</tspan></text>
<text transform="matrix(1 0 0 1.055 385.6 266.06)" text-anchor="end">8<tspan font-size="14.3" dy="1.23">×</tspan><tspan dy="-1.23" dx="-0.6">10</tspan><tspan dy="-5.97" font-size="8.6">9</tspan></text>
<text transform="matrix(1 0 0 1.055 385.6 237.7)" text-anchor="end">1<tspan font-size="14.3" dy="1.23">×</tspan><tspan dy="-1.23" dx="-0.6">10</tspan><tspan dy="-5.97" font-size="8.6">10</tspan></text>
<text transform="matrix(1 0 0 1.055 369.5 392.1)">−4<tspan font-size="14.3" dy="1.23">×</tspan><tspan dy="-1.23" dx="-0.6">10</tspan><tspan dy="-5.97" font-size="8.6">4</tspan></text>
<text transform="matrix(1 0 0 1.055 418.4 393.4)">−</text>
<text transform="matrix(1.35 0 0 1.055 422.6 392.1)" font-size="13.6">2</text>
<text transform="matrix(1 0 0 1.055 433.1 392.1)"><tspan font-size="14.3" dy="1.23">×</tspan><tspan dy="-1.23" dx="-0.6">10</tspan><tspan dy="-5.97" font-size="8.6">4</tspan></text>
<text transform="matrix(1 0 0 1.055 487.3 392.1)" text-anchor="middle">0</text>
<text transform="matrix(1 0 0 1.055 516.35 392.1)">2<tspan font-size="14.3" dy="1.23">×</tspan><tspan dy="-1.23" dx="-0.6">10</tspan><tspan dy="-5.97" font-size="8.6">4</tspan></text>
<text transform="matrix(1 0 0 1.055 563.4 392.1)">4<tspan font-size="14.3" dy="1.23">×</tspan><tspan dy="-1.23" dx="-0.6">10</tspan><tspan dy="-5.97" font-size="8.6">4</tspan></text>
<text transform="matrix(1 0 0 1.055 403.33 409.7)" class="t">Cometocentric Distance (km)</text>
<text transform="matrix(0 -1.055 1 0 331.3 390.6)" class="yt">Column Density of NH (cm<tspan dy="-6.92" font-size="8.3">−2</tspan><tspan dy="6.92">)</tspan></text>
<text transform="matrix(1 0 0 1.055 429.9 254)">90<tspan dy="-6.07" font-size="8.6">o</tspan></text>
<text transform="matrix(1 0 0 1.055 519.9 254)">270<tspan dy="-6.07" font-size="8.6">o</tspan></text>
<path d="M392.5 357.7L393.48 357.49L394.47 357.29L395.45 357.09L396.44 356.89L397.42 356.69L398.4 356.5L399.39 356.3L400.37 356.11L401.35 355.92L402.34 355.74L403.32 355.55L404.31 355.37L405.31 355.19L406.32 355.01L407.33 354.83L408.33 354.65L409.34 354.47L410.35 354.3L411.35 354.12L412.36 353.94L413.37 353.76L414.37 353.58L415.38 353.4L416.39 353.22L417.39 353.04L418.4 352.86L419.41 352.68L420.39 352.5L421.38 352.32L422.36 352.13L423.34 351.95L424.33 351.77L425.31 351.59L426.29 351.4L427.28 351.22L428.26 351.02L429.25 350.82L430.23 350.61L431.21 350.39L432.2 350.15L433.18 349.9L434.17 349.62L435.13 349.33L436.09 349.03L437.05 348.72L438.01 348.4L438.97 348.07L439.93 347.74L440.89 347.41L441.85 347.07L442.81 346.74L443.78 346.41L444.74 346.09L445.7 345.77L446.66 345.48L447.62 345.19L448.58 344.9L449.54 344.62L450.5 344.34L451.46 344.06L452.42 343.78L453.39 343.48L454.35 343.18L455.31 342.86L456.27 342.52L457.21 342.17L458.14 341.8L459.08 341.41L460 341L460.91 340.56L461.81 340.1L462.7 339.6L463.57 339.09L464.41 338.55L465.26 337.97L466.08 337.37L466.89 336.76L467.66 336.13L468.44 335.46L469.2 334.77L469.93 334.07L470.64 333.32L471.28 332.56L471.9 331.74L472.49 330.89L473.06 330.02L473.61 329.14L474.14 328.27L474.66 327.37L475.17 326.49L475.67 325.59L476.17 324.68L476.66 323.77L477.11 322.85L477.55 321.92L477.96 320.98L478.35 320.03L478.71 319.08L479.06 318.12L479.38 317.15L479.68 316.17L479.95 315.19L480.22 314.15L480.5 313.09L480.75 312.1L481 311.06L481.23 310.08L481.46 309.04L481.67 308.06L481.87 307.02L482.08 305.92L482.26 304.88L482.44 303.79L482.6 302.78L482.76 301.72L482.92 300.61L483.06 299.6L483.2 298.56L483.34 297.46L483.47 296.32L483.59 295.23L483.68 294.11L483.77 292.85L483.84 291.85L483.91 290.83L483.98 289.83L484 289.5" class="cv"/>
<path d="M484.5 289.5L484.86 290.48L485.22 291.49L485.56 292.46L485.9 293.45L486.23 294.46L486.54 295.42L486.86 296.4L487.17 297.4L487.48 298.41L487.8 299.44L488.08 300.39L488.37 301.36L488.66 302.34L488.95 303.33L489.24 304.36L489.5 305.39L489.74 306.37L489.98 307.35L490.25 308.41L490.51 309.42L490.8 310.41L491.14 311.38L491.5 312.33L491.89 313.26L492.29 314.17L492.73 315.08L493.18 315.98L493.67 316.88L494.15 317.77L494.65 318.67L495.16 319.54L495.69 320.42L496.24 321.31L496.79 322.15L497.37 322.98L497.97 323.78L498.6 324.57L499.25 325.36L499.9 326.14L500.55 326.91L501.22 327.68L501.89 328.42L502.59 329.15L503.31 329.87L504.06 330.56L504.83 331.21L505.65 331.83L506.49 332.38L507.38 332.87L508.29 333.31L509.23 333.72L510.17 334.09L511.13 334.44L512.09 334.77L513.05 335.1L514.02 335.43L514.95 335.78L515.89 336.14L516.83 336.51L517.77 336.86L518.71 337.22L519.65 337.58L520.58 337.93L521.52 338.28L522.46 338.63L523.4 338.98L524.34 339.33L525.27 339.68L526.21 340.03L527.18 340.38L528.11 340.73L529.05 341.09L529.99 341.46L530.93 341.83L531.87 342.19L532.83 342.53L533.79 342.85L534.75 343.13L535.74 343.38L536.73 343.61L537.71 343.81L538.7 344L539.68 344.18L540.67 344.36L541.66 344.54L542.64 344.73L543.63 344.93L544.62 345.13L545.6 345.34L546.59 345.54L547.57 345.75L548.56 345.95L549.55 346.14L550.53 346.32L551.52 346.49L552.53 346.65L553.54 346.8L554.55 346.95L555.56 347.09L556.57 347.23L557.58 347.38L558.59 347.54L559.6 347.7L560.59 347.87L561.58 348.04L562.56 348.22L563.55 348.4L564.53 348.58L565.52 348.75L566.51 348.92L567.52 349.08L568.53 349.24L569.54 349.4L570.55 349.56L571.56 349.71L572.57 349.87L573.58 350.02L574.59 350.16L575.6 350.31L576.61 350.45L577.62 350.59L578.63 350.73L579.64 350.86L580.65 350.99L580.7 351" class="cv"/>
<path d="M440.5 340.4L446.3 346.2L440.5 352L434.7 346.2Z" class="mk"/>
<path d="M445 332.2L450.8 338L445 343.8L439.2 338Z" class="mk"/>
<path d="M452.5 331.4L458.3 337.2L452.5 343L446.7 337.2Z" class="mk"/>
<path d="M459.2 320.2L465 326L459.2 331.8L453.4 326Z" class="mk"/>
<path d="M464.5 335.9L470.3 341.7L464.5 347.5L458.7 341.7Z" class="mk"/>
<path d="M470.5 332.2L476.3 338L470.5 343.8L464.7 338Z" class="mk"/>
<path d="M477.2 333.7L483 339.5L477.2 345.3L471.4 339.5Z" class="mk"/>
<path d="M482.2 297.8L488 303.6L482.2 309.4L476.4 303.6Z" class="mk"/>
<path d="M489.1 283.4L494.9 289.2L489.1 295L483.3 289.2Z" class="mk"/>
<path d="M495.2 307.8L501 313.6L495.2 319.4L489.4 313.6Z" class="mk"/>
<path d="M506.7 320.1L512.5 325.9L506.7 331.7L500.9 325.9Z" class="mk"/>
<path d="M499.8 327.7L505.6 333.5L499.8 339.3L494 333.5Z" class="mk"/>
<path d="M530.4 319.3L536.2 325.1L530.4 330.9L524.6 325.1Z" class="mk"/>
<path d="M515.9 336.1L521.7 341.9L515.9 347.7L510.1 341.9Z" class="mk"/>
<path d="M510.5 334.6L516.3 340.4L510.5 346.2L504.7 340.4Z" class="mk"/>
<path d="M524.3 333.1L530.1 338.9L524.3 344.7L518.5 338.9Z" class="mk"/>
<path d="M535.7 349.1L541.5 354.9L535.7 360.7L529.9 354.9Z" class="mk"/>
<path d="M543.4 361.4L549.2 367.2L543.4 373L537.6 367.2Z" class="mk"/>
<path d="M548 362.9L553.8 368.7L548 374.5L542.2 368.7Z" class="mk"/>
<path d="M440.5 348.5l0 -6M440.5 348.5l5.71 -1.85M440.5 348.5l-5.71 -1.85M440.5 348.5l3.53 4.85M440.5 348.5l-3.53 4.85" class="mk"/>
<path d="M448 344.7l0 -6M448 344.7l5.71 -1.85M448 344.7l-5.71 -1.85M448 344.7l3.53 4.85M448 344.7l-3.53 4.85" class="mk"/>
<path d="M451 338l0 -6M451 338l5.71 -1.85M451 338l-5.71 -1.85M451 338l3.53 4.85M451 338l-3.53 4.85" class="mk"/>
<path d="M460 327.5l0 -6M460 327.5l5.71 -1.85M460 327.5l-5.71 -1.85M460 327.5l3.53 4.85M460 327.5l-3.53 4.85" class="mk"/>
<path d="M464.5 347.7l0 -6M464.5 347.7l5.71 -1.85M464.5 347.7l-5.71 -1.85M464.5 347.7l3.53 4.85M464.5 347.7l-3.53 4.85" class="mk"/>
<path d="M470.5 350l0 -6M470.5 350l5.71 -1.85M470.5 350l-5.71 -1.85M470.5 350l3.53 4.85M470.5 350l-3.53 4.85" class="mk"/>
<path d="M477.4 348.6l0 -6M477.4 348.6l5.71 -1.85M477.4 348.6l-5.71 -1.85M477.4 348.6l3.53 4.85M477.4 348.6l-3.53 4.85" class="mk"/>
<path d="M483.6 288.6l0 -6M483.6 288.6l5.71 -1.85M483.6 288.6l-5.71 -1.85M483.6 288.6l3.53 4.85M483.6 288.6l-3.53 4.85" class="mk"/>
<path d="M489.1 302.9l0 -6M489.1 302.9l5.71 -1.85M489.1 302.9l-5.71 -1.85M489.1 302.9l3.53 4.85M489.1 302.9l-3.53 4.85" class="mk"/>
<path d="M494.5 318.2l0 -6M494.5 318.2l5.71 -1.85M494.5 318.2l-5.71 -1.85M494.5 318.2l3.53 4.85M494.5 318.2l-3.53 4.85" class="mk"/>
<path d="M501.3 342.7l0 -6M501.3 342.7l5.71 -1.85M501.3 342.7l-5.71 -1.85M501.3 342.7l3.53 4.85M501.3 342.7l-3.53 4.85" class="mk"/>
<path d="M506.7 338.1l0 -6M506.7 338.1l5.71 -1.85M506.7 338.1l-5.71 -1.85M506.7 338.1l3.53 4.85M506.7 338.1l-3.53 4.85" class="mk"/>
<path d="M513.6 348.8l0 -6M513.6 348.8l5.71 -1.85M513.6 348.8l-5.71 -1.85M513.6 348.8l3.53 4.85M513.6 348.8l-3.53 4.85" class="mk"/>
<path d="M518.9 335.8l0 -6M518.9 335.8l5.71 -1.85M518.9 335.8l-5.71 -1.85M518.9 335.8l3.53 4.85M518.9 335.8l-3.53 4.85" class="mk"/>
<path d="M524.3 336.6l0 -6M524.3 336.6l5.71 -1.85M524.3 336.6l-5.71 -1.85M524.3 336.6l3.53 4.85M524.3 336.6l-3.53 4.85" class="mk"/>
<path d="M531.2 347.3l0 -6M531.2 347.3l5.71 -1.85M531.2 347.3l-5.71 -1.85M531.2 347.3l3.53 4.85M531.2 347.3l-3.53 4.85" class="mk"/>
<path d="M536.5 367.2l0 -6M536.5 367.2l5.71 -1.85M536.5 367.2l-5.71 -1.85M536.5 367.2l3.53 4.85M536.5 367.2l-3.53 4.85" class="mk"/>
<path d="M547.2 371.7l0 -6M547.2 371.7l5.71 -1.85M547.2 371.7l-5.71 -1.85M547.2 371.7l3.53 4.85M547.2 371.7l-3.53 4.85" class="mk"/>
<rect x="75.8" y="435.5" width="189" height="143.2" class="ax"/>
<path d="M87.61 578.7v-3.3M87.61 435.5v3.3M99.42 578.7v-3.3M99.42 435.5v3.3M111.24 578.7v-3.3M111.24 435.5v3.3M123.05 578.7v-6.9M123.05 435.5v6.9M134.86 578.7v-3.3M134.86 435.5v3.3M146.68 578.7v-3.3M146.68 435.5v3.3M158.49 578.7v-3.3M158.49 435.5v3.3M170.3 578.7v-6.9M170.3 435.5v6.9M182.11 578.7v-3.3M182.11 435.5v3.3M193.93 578.7v-3.3M193.93 435.5v3.3M205.74 578.7v-3.3M205.74 435.5v3.3M217.55 578.7v-6.9M217.55 435.5v6.9M229.36 578.7v-3.3M229.36 435.5v3.3M241.18 578.7v-3.3M241.18 435.5v3.3M252.99 578.7v-3.3M252.99 435.5v3.3M75.8 571.54h4.4M264.8 571.54h-4.4M75.8 564.38h4.4M264.8 564.38h-4.4M75.8 557.22h4.4M264.8 557.22h-4.4M75.8 550.06h8.9M264.8 550.06h-8.9M75.8 542.9h4.4M264.8 542.9h-4.4M75.8 535.74h4.4M264.8 535.74h-4.4M75.8 528.58h4.4M264.8 528.58h-4.4M75.8 521.42h8.9M264.8 521.42h-8.9M75.8 514.26h4.4M264.8 514.26h-4.4M75.8 507.1h4.4M264.8 507.1h-4.4M75.8 499.94h4.4M264.8 499.94h-4.4M75.8 492.78h8.9M264.8 492.78h-8.9M75.8 485.62h4.4M264.8 485.62h-4.4M75.8 478.46h4.4M264.8 478.46h-4.4M75.8 471.3h4.4M264.8 471.3h-4.4M75.8 464.14h8.9M264.8 464.14h-8.9M75.8 456.98h4.4M264.8 456.98h-4.4M75.8 449.82h4.4M264.8 449.82h-4.4M75.8 442.66h4.4M264.8 442.66h-4.4" class="ax"/>
<text transform="matrix(1 0 0 1.055 72 584.7)" text-anchor="end">0</text>
<text transform="matrix(1 0 0 1.055 70.8 557.06)" text-anchor="end">2<tspan font-size="14.3" dy="1.23">×</tspan><tspan dy="-1.23" dx="-0.6">10</tspan><tspan dy="-5.97" font-size="8.6">9</tspan></text>
<text transform="matrix(1 0 0 1.055 70.8 528.42)" text-anchor="end">4<tspan font-size="14.3" dy="1.23">×</tspan><tspan dy="-1.23" dx="-0.6">10</tspan><tspan dy="-5.97" font-size="8.6">9</tspan></text>
<text transform="matrix(1 0 0 1.055 70.8 499.78)" text-anchor="end">6<tspan font-size="14.3" dy="1.23">×</tspan><tspan dy="-1.23" dx="-0.6">10</tspan><tspan dy="-5.97" font-size="8.6">9</tspan></text>
<text transform="matrix(1 0 0 1.055 70.8 471.14)" text-anchor="end">8<tspan font-size="14.3" dy="1.23">×</tspan><tspan dy="-1.23" dx="-0.6">10</tspan><tspan dy="-5.97" font-size="8.6">9</tspan></text>
<text transform="matrix(1 0 0 1.055 70.8 442.5)" text-anchor="end">1<tspan font-size="14.3" dy="1.23">×</tspan><tspan dy="-1.23" dx="-0.6">10</tspan><tspan dy="-5.97" font-size="8.6">10</tspan></text>
<text transform="matrix(1 0 0 1.055 52.8 598.3)">−4<tspan font-size="14.3" dy="1.23">×</tspan><tspan dy="-1.23" dx="-0.6">10</tspan><tspan dy="-5.97" font-size="8.6">4</tspan></text>
<text transform="matrix(1 0 0 1.055 100.75 598.3)">−2<tspan font-size="14.3" dy="1.23">×</tspan><tspan dy="-1.23" dx="-0.6">10</tspan><tspan dy="-5.97" font-size="8.6">4</tspan></text>
<text transform="matrix(1 0 0 1.055 171 598.3)" text-anchor="middle">0</text>
<text transform="matrix(1 0 0 1.055 200.25 598.3)">2<tspan font-size="14.3" dy="1.23">×</tspan><tspan dy="-1.23" dx="-0.6">10</tspan><tspan dy="-5.97" font-size="8.6">4</tspan></text>
<text transform="matrix(1 0 0 1.055 247.5 598.3)">4<tspan font-size="14.3" dy="1.23">×</tspan><tspan dy="-1.23" dx="-0.6">10</tspan><tspan dy="-5.97" font-size="8.6">4</tspan></text>
<text transform="matrix(1 0 0 1.055 91.83 615.7)" class="t">Cometocentric Distance (km)</text>
<text transform="matrix(0 -1.055 1 0 14.6 596)" class="yt">Column Density of NH (cm<tspan dy="-6.92" font-size="8.3">−2</tspan><tspan dy="6.92">)</tspan></text>
<text transform="matrix(1 0 0 1.055 110.2 459.5)">120<tspan dy="-6.07" font-size="8.6">o</tspan></text>
<text transform="matrix(1 0 0 1.055 204.6 459.5)">300<tspan dy="-6.07" font-size="8.6">o</tspan></text>
<path d="M75.8 564.9L76.8 564.76L77.8 564.61L78.8 564.46L79.8 564.31L80.79 564.16L81.79 564.01L82.79 563.85L83.79 563.69L84.79 563.53L85.79 563.37L86.79 563.21L87.79 563.04L88.79 562.87L89.78 562.7L90.78 562.53L91.78 562.36L92.78 562.19L93.78 562.01L94.78 561.84L95.78 561.66L96.78 561.49L97.78 561.32L98.78 561.14L99.77 560.97L100.77 560.79L101.77 560.61L102.77 560.43L103.77 560.24L104.77 560.05L105.77 559.85L106.77 559.64L107.77 559.43L108.76 559.21L109.76 558.99L110.74 558.77L111.71 558.55L112.69 558.32L113.67 558.1L114.64 557.88L115.62 557.66L116.62 557.44L117.62 557.22L118.61 556.99L119.61 556.77L120.59 556.55L121.56 556.33L122.54 556.1L123.52 555.87L124.49 555.63L125.47 555.38L126.44 555.14L127.42 554.9L128.39 554.66L129.37 554.4L130.35 554.14L131.32 553.87L132.3 553.57L133.25 553.26L134.2 552.93L135.15 552.55L136.08 552.14L136.99 551.71L137.9 551.25L138.8 550.77L139.68 550.29L140.57 549.81L141.45 549.31L142.33 548.8L143.19 548.28L144.05 547.74L144.91 547.19L145.75 546.64L146.58 546.06L147.42 545.47L148.23 544.88L149.05 544.26L149.84 543.63L150.63 542.98L151.39 542.32L152.16 541.65L152.93 540.97L153.67 540.3L154.41 539.63L155.18 538.96L155.95 538.3L156.71 537.63L157.46 536.94L158.18 536.23L158.87 535.49L159.52 534.72L160.15 533.91L160.73 533.05L161.24 532.16L161.71 531.25L162.15 530.32L162.57 529.38L162.96 528.46L163.36 527.51L163.73 526.57L164.1 525.58L164.45 524.59L164.77 523.6L165.08 522.61L165.35 521.63L165.63 520.59L165.89 519.56L166.12 518.55L166.35 517.48L166.56 516.47L166.77 515.4L166.96 514.42L167.14 513.39L167.33 512.32L167.52 511.22L167.68 510.21L167.84 509.12L167.98 508.12L168.12 507.07L168.26 505.97L168.4 504.84L168.54 503.68L168.68 502.5L168.7 502.3" class="cv"/>
<path d="M172.1 485.4L172.31 486.47L172.52 487.53L172.73 488.59L172.93 489.63L173.14 490.66L173.35 491.67L173.56 492.67L173.77 493.65L174 494.72L174.23 495.77L174.46 496.78L174.7 497.77L174.95 498.83L175.21 499.84L175.46 500.82L175.74 501.83L176.04 502.86L176.34 503.82L176.67 504.78L177.04 505.76L177.45 506.71L177.92 507.62L178.41 508.5L178.94 509.38L179.49 510.22L180.1 511.05L180.72 511.84L181.37 512.6L182.04 513.35L182.74 514.11L183.44 514.87L184.11 515.62L184.78 516.38L185.48 517.14L186.17 517.88L186.89 518.62L187.61 519.34L188.33 520.04L189.07 520.75L189.81 521.43L190.58 522.12L191.34 522.8L192.11 523.46L192.87 524.11L193.66 524.76L194.45 525.4L195.23 526.02L196.05 526.63L196.86 527.22L197.69 527.79L198.55 528.36L199.41 528.89L200.29 529.41L201.17 529.9L202.05 530.39L202.95 530.87L203.86 531.35L204.76 531.83L205.67 532.32L206.55 532.8L207.43 533.28L208.31 533.77L209.19 534.25L210.07 534.73L210.95 535.21L211.86 535.69L212.76 536.17L213.66 536.63L214.57 537.09L215.47 537.53L216.38 537.97L217.28 538.41L218.18 538.85L219.09 539.28L220.01 539.72L220.94 540.14L221.87 540.55L222.8 540.94L223.72 541.32L224.67 541.68L225.62 542.02L226.57 542.35L227.53 542.66L228.5 542.97L229.47 543.27L230.45 543.56L231.42 543.84L232.39 544.11L233.37 544.37L234.34 544.63L235.31 544.88L236.29 545.13L237.26 545.37L238.23 545.6L239.23 545.83L240.23 546.06L241.23 546.28L242.22 546.5L243.22 546.71L244.22 546.93L245.21 547.13L246.21 547.34L247.21 547.54L248.2 547.75L249.2 547.95L250.2 548.15L251.19 548.34L252.19 548.53L253.19 548.71L254.18 548.87L255.18 549.03L256.18 549.17L257.17 549.31L258.17 549.45L259.17 549.58L260.16 549.71L261.16 549.83L262.16 549.94L263.15 550.05L264.15 550.14L264.8 550.2" class="cv"/>
<path d="M127.7 535.7L133.5 541.5L127.7 547.3L121.9 541.5Z" class="mk"/>
<path d="M134.5 538.7L140.3 544.5L134.5 550.3L128.7 544.5Z" class="mk"/>
<path d="M138.2 534.9L144 540.7L138.2 546.5L132.4 540.7Z" class="mk"/>
<path d="M145 527.4L150.8 533.2L145 539L139.2 533.2Z" class="mk"/>
<path d="M151.7 542.4L157.5 548.2L151.7 554L145.9 548.2Z" class="mk"/>
<path d="M156.2 531.2L162 537L156.2 542.8L150.4 537Z" class="mk"/>
<path d="M163 534.2L168.8 540L163 545.8L157.2 540Z" class="mk"/>
<path d="M168.3 518.4L174.1 524.2L168.3 530L162.5 524.2Z" class="mk"/>
<path d="M173.5 514.5L179.3 520.3L173.5 526.1L167.7 520.3Z" class="mk"/>
<path d="M181.8 504.4L187.6 510.2L181.8 516L176 510.2Z" class="mk"/>
<path d="M187.4 512.2L193.2 518L187.4 523.8L181.6 518Z" class="mk"/>
<path d="M193.7 519.2L199.5 525L193.7 530.8L187.9 525Z" class="mk"/>
<path d="M197.7 521.6L203.5 527.4L197.7 533.2L191.9 527.4Z" class="mk"/>
<path d="M211.1 519.2L216.9 525L211.1 530.8L205.3 525Z" class="mk"/>
<path d="M216.7 523.2L222.5 529L216.7 534.8L210.9 529Z" class="mk"/>
<path d="M223 529.5L228.8 535.3L223 541.1L217.2 535.3Z" class="mk"/>
<path d="M204.8 535.9L210.6 541.7L204.8 547.5L199 541.7Z" class="mk"/>
<path d="M234.9 543.8L240.7 549.6L234.9 555.4L229.1 549.6Z" class="mk"/>
<path d="M240.4 541.4L246.2 547.2L240.4 553L234.6 547.2Z" class="mk"/>
<path d="M228.5 559.6L234.3 565.4L228.5 571.2L222.7 565.4Z" class="mk"/>
<path d="M127 529.5l0 -6M127 529.5l5.71 -1.85M127 529.5l-5.71 -1.85M127 529.5l3.53 4.85M127 529.5l-3.53 4.85" class="mk"/>
<path d="M133 538.5l0 -6M133 538.5l5.71 -1.85M133 538.5l-5.71 -1.85M133 538.5l3.53 4.85M133 538.5l-3.53 4.85" class="mk"/>
<path d="M145 518.2l0 -6M145 518.2l5.71 -1.85M145 518.2l-5.71 -1.85M145 518.2l3.53 4.85M145 518.2l-3.53 4.85" class="mk"/>
<path d="M150.2 529.5l0 -6M150.2 529.5l5.71 -1.85M150.2 529.5l-5.71 -1.85M150.2 529.5l3.53 4.85M150.2 529.5l-3.53 4.85" class="mk"/>
<path d="M139 552l0 -6M139 552l5.71 -1.85M139 552l-5.71 -1.85M139 552l3.53 4.85M139 552l-3.53 4.85" class="mk"/>
<path d="M158.5 536.2l0 -6M158.5 536.2l5.71 -1.85M158.5 536.2l-5.71 -1.85M158.5 536.2l3.53 4.85M158.5 536.2l-3.53 4.85" class="mk"/>
<path d="M167.5 513.5l0 -6M167.5 513.5l5.71 -1.85M167.5 513.5l-5.71 -1.85M167.5 513.5l3.53 4.85M167.5 513.5l-3.53 4.85" class="mk"/>
<path d="M161.5 538.5l0 -6M161.5 538.5l5.71 -1.85M161.5 538.5l-5.71 -1.85M161.5 538.5l3.53 4.85M161.5 538.5l-3.53 4.85" class="mk"/>
<path d="M175.8 511.7l0 -6M175.8 511.7l5.71 -1.85M175.8 511.7l-5.71 -1.85M175.8 511.7l3.53 4.85M175.8 511.7l-3.53 4.85" class="mk"/>
<path d="M198.5 517l0 -6M198.5 517l5.71 -1.85M198.5 517l-5.71 -1.85M198.5 517l3.53 4.85M198.5 517l-3.53 4.85" class="mk"/>
<path d="M185.8 529.8l0 -6M185.8 529.8l5.71 -1.85M185.8 529.8l-5.71 -1.85M185.8 529.8l3.53 4.85M185.8 529.8l-3.53 4.85" class="mk"/>
<path d="M192.2 527.4l0 -6M192.2 527.4l5.71 -1.85M192.2 527.4l-5.71 -1.85M192.2 527.4l3.53 4.85M192.2 527.4l-3.53 4.85" class="mk"/>
<path d="M205.6 526.6l0 -6M205.6 526.6l5.71 -1.85M205.6 526.6l-5.71 -1.85M205.6 526.6l3.53 4.85M205.6 526.6l-3.53 4.85" class="mk"/>
<path d="M212 531.4l0 -6M212 531.4l5.71 -1.85M212 531.4l-5.71 -1.85M212 531.4l3.53 4.85M212 531.4l-3.53 4.85" class="mk"/>
<path d="M217.5 533l0 -6M217.5 533l5.71 -1.85M217.5 533l-5.71 -1.85M217.5 533l3.53 4.85M217.5 533l-3.53 4.85" class="mk"/>
<path d="M234.1 543.3l0 -6M234.1 543.3l5.71 -1.85M234.1 543.3l-5.71 -1.85M234.1 543.3l3.53 4.85M234.1 543.3l-3.53 4.85" class="mk"/>
<path d="M228.5 548.8l0 -6M228.5 548.8l5.71 -1.85M228.5 548.8l-5.71 -1.85M228.5 548.8l3.53 4.85M228.5 548.8l-3.53 4.85" class="mk"/>
<path d="M238.8 552.8l0 -6M238.8 552.8l5.71 -1.85M238.8 552.8l-5.71 -1.85M238.8 552.8l3.53 4.85M238.8 552.8l-3.53 4.85" class="mk"/>
<path d="M221.4 557.5l0 -6M221.4 557.5l5.71 -1.85M221.4 557.5l-5.71 -1.85M221.4 557.5l3.53 4.85M221.4 557.5l-3.53 4.85" class="mk"/>
<rect x="391" y="433.8" width="189.5" height="148.4" class="ax"/>
<path d="M402.84 582.2v-3.3M402.84 433.8v3.3M414.69 582.2v-3.3M414.69 433.8v3.3M426.53 582.2v-3.3M426.53 433.8v3.3M438.38 582.2v-6.9M438.38 433.8v6.9M450.22 582.2v-3.3M450.22 433.8v3.3M462.06 582.2v-3.3M462.06 433.8v3.3M473.91 582.2v-3.3M473.91 433.8v3.3M485.75 582.2v-6.9M485.75 433.8v6.9M497.59 582.2v-3.3M497.59 433.8v3.3M509.44 582.2v-3.3M509.44 433.8v3.3M521.28 582.2v-3.3M521.28 433.8v3.3M533.12 582.2v-6.9M533.12 433.8v6.9M544.97 582.2v-3.3M544.97 433.8v3.3M556.81 582.2v-3.3M556.81 433.8v3.3M568.66 582.2v-3.3M568.66 433.8v3.3M391 574.78h4.4M580.5 574.78h-4.4M391 567.36h4.4M580.5 567.36h-4.4M391 559.94h4.4M580.5 559.94h-4.4M391 552.52h8.9M580.5 552.52h-8.9M391 545.1h4.4M580.5 545.1h-4.4M391 537.68h4.4M580.5 537.68h-4.4M391 530.26h4.4M580.5 530.26h-4.4M391 522.84h8.9M580.5 522.84h-8.9M391 515.42h4.4M580.5 515.42h-4.4M391 508h4.4M580.5 508h-4.4M391 500.58h4.4M580.5 500.58h-4.4M391 493.16h8.9M580.5 493.16h-8.9M391 485.74h4.4M580.5 485.74h-4.4M391 478.32h4.4M580.5 478.32h-4.4M391 470.9h4.4M580.5 470.9h-4.4M391 463.48h8.9M580.5 463.48h-8.9M391 456.06h4.4M580.5 456.06h-4.4M391 448.64h4.4M580.5 448.64h-4.4M391 441.22h4.4M580.5 441.22h-4.4" class="ax"/>
<text transform="matrix(1 0 0 1.055 385.8 588.7)" text-anchor="end">0</text>
<text transform="matrix(1 0 0 1.055 384.4 559.52)" text-anchor="end">2<tspan font-size="14.3" dy="1.23">×</tspan><tspan dy="-1.23" dx="-0.6">10</tspan><tspan dy="-5.97" font-size="8.6">9</tspan></text>
<text transform="matrix(1 0 0 1.055 384.4 529.84)" text-anchor="end">4<tspan font-size="14.3" dy="1.23">×</tspan><tspan dy="-1.23" dx="-0.6">10</tspan><tspan dy="-5.97" font-size="8.6">9</tspan></text>
<text transform="matrix(1 0 0 1.055 384.4 500.16)" text-anchor="end">6<tspan font-size="14.3" dy="1.23">×</tspan><tspan dy="-1.23" dx="-0.6">10</tspan><tspan dy="-5.97" font-size="8.6">9</tspan></text>
<text transform="matrix(1 0 0 1.055 384.4 470.48)" text-anchor="end">8<tspan font-size="14.3" dy="1.23">×</tspan><tspan dy="-1.23" dx="-0.6">10</tspan><tspan dy="-5.97" font-size="8.6">9</tspan></text>
<text transform="matrix(1 0 0 1.055 384.4 440.8)" text-anchor="end">1<tspan font-size="14.3" dy="1.23">×</tspan><tspan dy="-1.23" dx="-0.6">10</tspan><tspan dy="-5.97" font-size="8.6">10</tspan></text>
<text transform="matrix(1 0 0 1.055 368 601.8)">−4<tspan font-size="14.3" dy="1.23">×</tspan><tspan dy="-1.23" dx="-0.6">10</tspan><tspan dy="-5.97" font-size="8.6">4</tspan></text>
<text transform="matrix(1 0 0 1.055 416.07 601.8)">−2<tspan font-size="14.3" dy="1.23">×</tspan><tspan dy="-1.23" dx="-0.6">10</tspan><tspan dy="-5.97" font-size="8.6">4</tspan></text>
<text transform="matrix(1 0 0 1.055 486.45 601.8)" text-anchor="middle">0</text>
<text transform="matrix(1 0 0 1.055 515.83 601.8)">2<tspan font-size="14.3" dy="1.23">×</tspan><tspan dy="-1.23" dx="-0.6">10</tspan><tspan dy="-5.97" font-size="8.6">4</tspan></text>
<text transform="matrix(1 0 0 1.055 563.2 601.8)">4<tspan font-size="14.3" dy="1.23">×</tspan><tspan dy="-1.23" dx="-0.6">10</tspan><tspan dy="-5.97" font-size="8.6">4</tspan></text>
<text transform="matrix(1 0 0 1.055 403.83 619)" class="t">Cometocentric Distance (km)</text>
<text transform="matrix(0 -1.055 1 0 329.8 596.3)" class="yt">Column Density of NH (cm<tspan dy="-6.92" font-size="8.3">−2</tspan><tspan dy="6.92">)</tspan></text>
<text transform="matrix(1 0 0 1.055 425.9 458)">150<tspan dy="-6.07" font-size="8.6">o</tspan></text>
<text transform="matrix(1 0 0 1.055 520.4 458)">330<tspan dy="-6.07" font-size="8.6">o</tspan></text>
<path d="M391 566.5L392 566.37L392.99 566.24L393.99 566.1L394.99 565.96L395.99 565.81L396.98 565.66L397.98 565.5L398.98 565.34L399.98 565.17L400.97 565L401.97 564.83L402.97 564.64L403.97 564.45L404.96 564.25L405.96 564.04L406.96 563.84L407.95 563.63L408.95 563.42L409.95 563.21L410.95 563.01L411.94 562.81L412.94 562.62L413.94 562.43L414.94 562.23L415.93 562.04L416.93 561.85L417.93 561.65L418.92 561.44L419.92 561.23L420.92 561.02L421.92 560.79L422.91 560.56L423.89 560.33L424.86 560.1L425.84 559.85L426.81 559.61L427.78 559.36L428.76 559.1L429.73 558.84L430.71 558.58L431.68 558.31L432.66 558.04L433.63 557.77L434.6 557.49L435.58 557.2L436.55 556.91L437.53 556.62L438.5 556.31L439.47 556L440.42 555.69L441.38 555.37L442.33 555.06L443.28 554.74L444.23 554.41L445.18 554.07L446.13 553.72L447.08 553.34L448.01 552.95L448.94 552.53L449.84 552.07L450.72 551.58L451.58 551.05L452.44 550.49L453.27 549.94L454.11 549.37L454.94 548.8L455.78 548.25L456.61 547.69L457.45 547.13L458.28 546.56L459.12 545.98L459.95 545.4L460.79 544.81L461.62 544.22L462.44 543.63L463.25 543.03L464.06 542.42L464.87 541.8L465.68 541.17L466.49 540.54L467.31 539.95L468.12 539.36L468.93 538.77L469.74 538.14L470.53 537.49L471.27 536.82L471.99 536.1L472.66 535.35L473.31 534.55L473.89 533.71L474.4 532.84L474.89 531.91L475.33 531L475.75 530.07L476.14 529.15L476.54 528.19L476.91 527.25L477.28 526.28L477.65 525.28L478 524.32L478.35 523.35L478.69 522.34L479.02 521.33L479.32 520.33L479.6 519.36L479.88 518.34L480.13 517.37L480.39 516.37L480.64 515.32L480.87 514.34L481.11 513.34L481.34 512.34L481.57 511.3L481.78 510.31L481.99 509.25L482.17 508.21L482.34 507.22L482.5 506.14L482.64 505.12L482.78 503.95L482.89 502.84L483.01 501.62L483.1 500.58L483.19 499.48L483.29 498.32L483.38 497.13L483.47 495.89L483.56 494.62L483.66 493.32L483.75 492L483.75 492" class="cv"/>
<path d="M487.1 477.1L487.29 478.22L487.47 479.33L487.66 480.42L487.85 481.49L488.03 482.55L488.22 483.58L488.41 484.59L488.59 485.58L488.8 486.66L489.02 487.71L489.23 488.72L489.44 489.71L489.67 490.76L489.9 491.79L490.14 492.8L490.37 493.78L490.63 494.83L490.88 495.85L491.14 496.84L491.42 497.88L491.7 498.89L491.98 499.85L492.28 500.85L492.59 501.82L492.92 502.83L493.24 503.82L493.57 504.77L493.92 505.75L494.29 506.74L494.67 507.67L495.06 508.59L495.51 509.52L495.98 510.44L496.47 511.37L496.96 512.25L497.47 513.13L498.01 514L498.57 514.85L499.15 515.68L499.76 516.48L500.41 517.28L501.09 518.02L501.79 518.75L502.51 519.46L503.26 520.16L504.03 520.84L504.8 521.48L505.6 522.11L506.42 522.74L507.23 523.34L508.05 523.91L508.89 524.5L509.73 525.07L510.57 525.64L511.41 526.21L512.25 526.77L513.12 527.33L513.98 527.87L514.85 528.39L515.71 528.91L516.6 529.42L517.49 529.93L518.37 530.43L519.26 530.92L520.15 531.41L521.04 531.89L521.92 532.38L522.81 532.86L523.7 533.34L524.59 533.81L525.47 534.28L526.36 534.75L527.27 535.22L528.18 535.68L529.09 536.13L530 536.57L530.92 537L531.83 537.42L532.76 537.84L533.69 538.26L534.63 538.68L535.56 539.1L536.5 539.51L537.43 539.92L538.37 540.31L539.3 540.7L540.23 541.07L541.17 541.43L542.13 541.78L543.08 542.11L544.04 542.42L545.02 542.71L546 542.97L546.98 543.22L547.97 543.45L548.95 543.67L549.93 543.88L550.91 544.08L551.89 544.27L552.89 544.47L553.9 544.67L554.88 544.86L555.86 545.07L556.84 545.28L557.82 545.51L558.8 545.75L559.78 546.01L560.76 546.29L561.75 546.57L562.73 546.85L563.71 547.14L564.69 547.41L565.67 547.67L566.65 547.92L567.63 548.14L568.61 548.36L569.59 548.58L570.57 548.79L571.55 549L572.54 549.2L573.52 549.4L574.52 549.59L575.53 549.78L576.53 549.96L577.53 550.13L578.54 550.3L579.54 550.46L580.5 550.6" class="cv"/>
<path d="M442 528.4L447.8 534.2L442 540L436.2 534.2Z" class="mk"/>
<path d="M448 543.4L453.8 549.2L448 555L442.2 549.2Z" class="mk"/>
<path d="M453.2 524.7L459 530.5L453.2 536.3L447.4 530.5Z" class="mk"/>
<path d="M459.2 538.2L465 544L459.2 549.8L453.4 544Z" class="mk"/>
<path d="M464.5 530.7L470.3 536.5L464.5 542.3L458.7 536.5Z" class="mk"/>
<path d="M472 540.4L477.8 546.2L472 552L466.2 546.2Z" class="mk"/>
<path d="M475.7 524.7L481.5 530.5L475.7 536.3L469.9 530.5Z" class="mk"/>
<path d="M483.2 520.2L489 526L483.2 531.8L477.4 526Z" class="mk"/>
<path d="M495.3 515.3L501.1 521.1L495.3 526.9L489.5 521.1Z" class="mk"/>
<path d="M500.8 512.9L506.6 518.7L500.8 524.5L495 518.7Z" class="mk"/>
<path d="M513.5 512.9L519.3 518.7L513.5 524.5L507.7 518.7Z" class="mk"/>
<path d="M507.2 518.5L513 524.3L507.2 530.1L501.4 524.3Z" class="mk"/>
<path d="M518.2 523.2L524 529L518.2 534.8L512.4 529Z" class="mk"/>
<path d="M526.1 524.8L531.9 530.6L526.1 536.4L520.3 530.6Z" class="mk"/>
<path d="M531.7 516.1L537.5 521.9L531.7 527.7L525.9 521.9Z" class="mk"/>
<path d="M537.2 531.9L543 537.7L537.2 543.5L531.4 537.7Z" class="mk"/>
<path d="M555.4 534.3L561.2 540.1L555.4 545.9L549.6 540.1Z" class="mk"/>
<path d="M542 551.7L547.8 557.5L542 563.3L536.2 557.5Z" class="mk"/>
<path d="M549.1 549.3L554.9 555.1L549.1 560.9L543.3 555.1Z" class="mk"/>
<path d="M489.3 505L495.1 510.8L489.3 516.6L483.5 510.8Z" class="mk"/>
<path d="M442.7 538l0 -6M442.7 538l5.71 -1.85M442.7 538l-5.71 -1.85M442.7 538l3.53 4.85M442.7 538l-3.53 4.85" class="mk"/>
<path d="M448 542.5l0 -6M448 542.5l5.71 -1.85M448 542.5l-5.71 -1.85M448 542.5l3.53 4.85M448 542.5l-3.53 4.85" class="mk"/>
<path d="M455.5 530.5l0 -6M455.5 530.5l5.71 -1.85M455.5 530.5l-5.71 -1.85M455.5 530.5l3.53 4.85M455.5 530.5l-3.53 4.85" class="mk"/>
<path d="M460 532l0 -6M460 532l5.71 -1.85M460 532l-5.71 -1.85M460 532l3.53 4.85M460 532l-3.53 4.85" class="mk"/>
<path d="M466 535.7l0 -6M466 535.7l5.71 -1.85M466 535.7l-5.71 -1.85M466 535.7l3.53 4.85M466 535.7l-3.53 4.85" class="mk"/>
<path d="M473.5 533.5l0 -6M473.5 533.5l5.71 -1.85M473.5 533.5l-5.71 -1.85M473.5 533.5l3.53 4.85M473.5 533.5l-3.53 4.85" class="mk"/>
<path d="M479.5 536.5l0 -6M479.5 536.5l5.71 -1.85M479.5 536.5l-5.71 -1.85M479.5 536.5l3.53 4.85M479.5 536.5l-3.53 4.85" class="mk"/>
<path d="M483.75 506.7l0 -6M483.75 506.7l5.71 -1.85M483.75 506.7l-5.71 -1.85M483.75 506.7l3.53 4.85M483.75 506.7l-3.53 4.85" class="mk"/>
<path d="M496.6 501.8l0 -6M496.6 501.8l5.71 -1.85M496.6 501.8l-5.71 -1.85M496.6 501.8l3.53 4.85M496.6 501.8l-3.53 4.85" class="mk"/>
<path d="M488.2 525.9l0 -6M488.2 525.9l5.71 -1.85M488.2 525.9l-5.71 -1.85M488.2 525.9l3.53 4.85M488.2 525.9l-3.53 4.85" class="mk"/>
<path d="M507.2 530.6l0 -6M507.2 530.6l5.71 -1.85M507.2 530.6l-5.71 -1.85M507.2 530.6l3.53 4.85M507.2 530.6l-3.53 4.85" class="mk"/>
<path d="M513.5 531.4l0 -6M513.5 531.4l5.71 -1.85M513.5 531.4l-5.71 -1.85M513.5 531.4l3.53 4.85M513.5 531.4l-3.53 4.85" class="mk"/>
<path d="M519 534.6l0 -6M519 534.6l5.71 -1.85M519 534.6l-5.71 -1.85M519 534.6l3.53 4.85M519 534.6l-3.53 4.85" class="mk"/>
<path d="M526.1 511.6l0 -6M526.1 511.6l5.71 -1.85M526.1 511.6l-5.71 -1.85M526.1 511.6l3.53 4.85M526.1 511.6l-3.53 4.85" class="mk"/>
<path d="M531.7 525.9l0 -6M531.7 525.9l5.71 -1.85M531.7 525.9l-5.71 -1.85M531.7 525.9l3.53 4.85M531.7 525.9l-3.53 4.85" class="mk"/>
<path d="M537.2 543.3l0 -6M537.2 543.3l5.71 -1.85M537.2 543.3l-5.71 -1.85M537.2 543.3l3.53 4.85M537.2 543.3l-3.53 4.85" class="mk"/>
<path d="M543.5 540.9l0 -6M543.5 540.9l5.71 -1.85M543.5 540.9l-5.71 -1.85M543.5 540.9l3.53 4.85M543.5 540.9l-3.53 4.85" class="mk"/>
<path d="M553.8 540.9l0 -6M553.8 540.9l5.71 -1.85M553.8 540.9l-5.71 -1.85M553.8 540.9l3.53 4.85M553.8 540.9l-3.53 4.85" class="mk"/>
<path d="M549.1 559.9l0 -6M549.1 559.9l5.71 -1.85M549.1 559.9l-5.71 -1.85M549.1 559.9l3.53 4.85M549.1 559.9l-3.53 4.85" class="mk"/>
</g></svg>
</body></html>
